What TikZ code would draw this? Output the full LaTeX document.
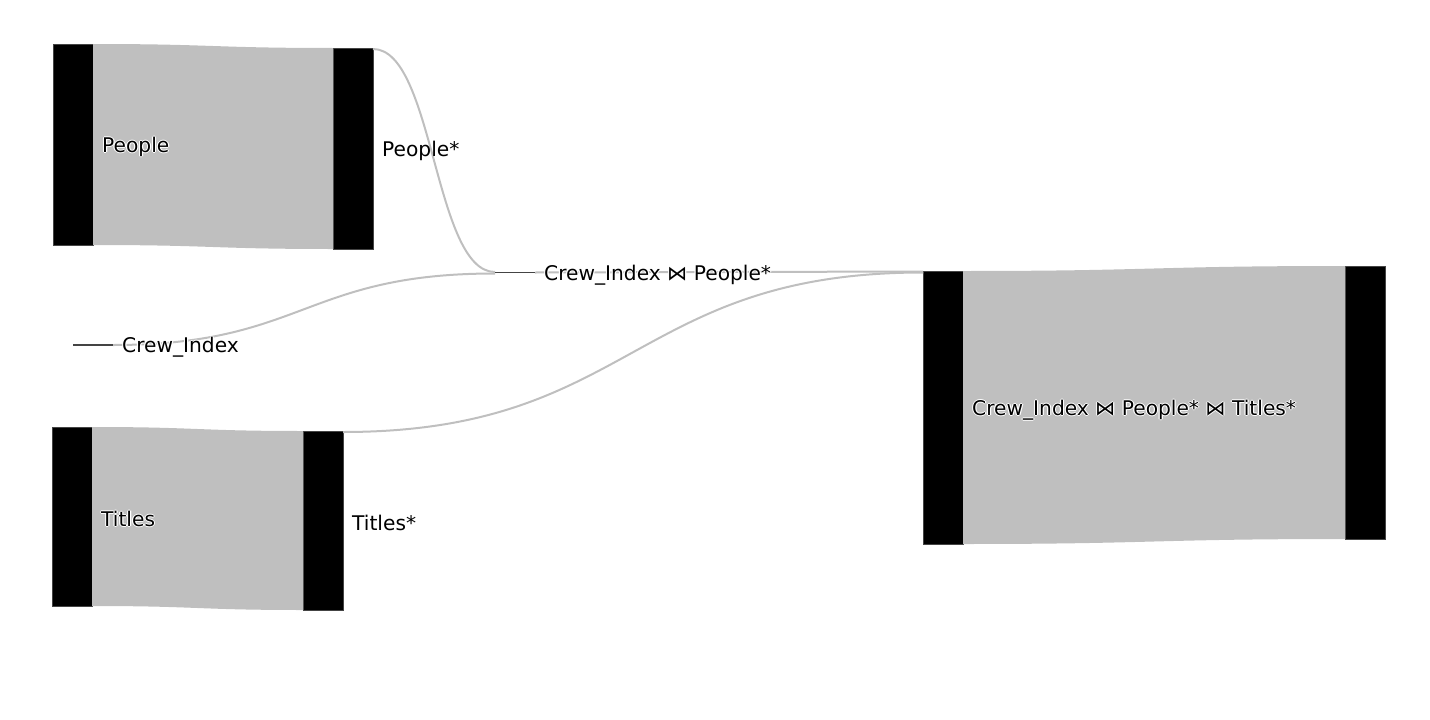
\documentclass[tikz,border=0pt]{standalone}
\usepackage{fontspec}
\setmainfont{DejaVu Sans}
\usetikzlibrary{calc}
\definecolor{bandgray}{RGB}{191,191,191}
\definecolor{nodeline}{RGB}{68,68,68}
\newcommand\halotext[1]{%
  \makebox[0pt][l]{\color{white}\hspace{-1.2pt}#1}%
  \makebox[0pt][l]{\color{white}\hspace{1.2pt}#1}%
  \makebox[0pt][l]{\color{white}\raisebox{1.2pt}{#1}}%
  \makebox[0pt][l]{\color{white}\raisebox{-1.2pt}{#1}}%
  #1}
\tikzset{
  bar/.style={rectangle, fill=black, draw=nodeline, line width=0.75pt,
    minimum width=40pt, inner sep=0pt, outer sep=0pt},
  flatnode/.style={rectangle, draw=nodeline, line width=1.4pt,
    minimum width=40pt, minimum height=0pt, inner sep=0pt, outer sep=0pt},
  band/.style={fill=bandgray},
  thinlink/.style={draw=bandgray, line width=2pt},
  lbl/.style={anchor=west, inner sep=0pt, font=\fontsize{20.2pt}{23pt}\selectfont, text=black}
}
\begin{document}
\begin{tikzpicture}[x=1pt, y=-1pt]
\useasboundingbox (0,0) rectangle (1430,720);
% nodes (bars)
\node[bar, minimum height=201pt] (pe) at (73,144.5) {};
\node[bar, minimum height=201pt] (ps) at (353,148.5) {};
\node[bar, minimum height=179pt] (ti) at (72,516.5) {};
\node[bar, minimum height=179pt] (ts) at (323,520.5) {};
\node[bar, minimum height=273pt] (fi) at (943,407.5) {};
\node[bar, minimum height=273pt] (rt) at (1365,402.5) {};
% bands
\fill[band] (pe.north east) .. controls ($(pe.north east)+(120,0)$) and ($(ps.north west)-(120,0)$) .. (ps.north west)
  -- (ps.south west) .. controls ($(ps.south west)-(120,0)$) and ($(pe.south east)+(120,0)$) .. (pe.south east) -- cycle;
\fill[band] (ti.north east) .. controls ($(ti.north east)+(105.5,0)$) and ($(ts.north west)-(105.5,0)$) .. (ts.north west)
  -- (ts.south west) .. controls ($(ts.south west)-(105.5,0)$) and ($(ti.south east)+(105.5,0)$) .. (ti.south east) -- cycle;
\fill[band] (fi.north east) .. controls ($(fi.north east)+(191,0)$) and ($(rt.north west)-(191,0)$) .. (rt.north west)
  -- (rt.south west) .. controls ($(rt.south west)-(191,0)$) and ($(fi.south east)+(191,0)$) .. (fi.south east) -- cycle;
% flat nodes
\node[flatnode] (ci) at (93,345) {};
\node[flatnode] (jn) at (515,272.5) {};
% thin links
\coordinate (psout) at ($(ps.north east)+(0,1)$);
\coordinate (jnin1) at ($(jn.west)+(0,-0.5)$);
\coordinate (jnin2) at ($(jn.west)+(0,1)$);
\coordinate (fiin1) at ($(fi.north west)+(0,0.5)$);
\coordinate (fiin2) at ($(fi.north west)+(0,1.5)$);
\coordinate (tsout) at ($(ts.north east)+(0,1)$);
\draw[thinlink] (psout) .. controls ($(psout)+(61,0)$) and ($(jnin1)-(61,0)$) .. (jnin1);
\draw[thinlink] (ci.east) .. controls ($(ci.east)+(191,0)$) and ($(jnin2)-(191,0)$) .. (jnin2);
\draw[thinlink] (jn.east) .. controls ($(jn.east)+(194,0)$) and ($(fiin1)-(194,0)$) .. (fiin1);
\draw[thinlink] (tsout) .. controls ($(tsout)+(290,0)$) and ($(fiin2)-(290,0)$) .. (fiin2);
% redraw flat nodes on top
\draw[draw=nodeline, line width=1.4pt] (ci.west) -- (ci.east);
\draw[draw=nodeline, line width=1.4pt] (jn.west) -- (jn.east);
% labels
\node[lbl] (lpe) at ($(pe.east)+(9,2.5)$) {\halotext{People}};
\node[lbl] (lps) at ($(ps.east)+(9,2.5)$) {People*};
\node[lbl] (lti) at ($(ti.east)+(9,2.5)$) {\halotext{Titles}};
\node[lbl] (lts) at ($(ts.east)+(9,2.5)$) {Titles*};
\node[lbl] (lci) at ($(ci.east)+(9,2.5)$) {\halotext{Crew\_Index}};
\node[lbl] (ljn) at ($(jn.east)+(9,2.5)$) {\halotext{Crew\_Index ⋈ People*}};
\node[lbl] (lfi) at ($(fi.east)+(9,2.5)$) {\halotext{Crew\_Index ⋈ People* ⋈ Titles*}};
\end{tikzpicture}
\end{document}
